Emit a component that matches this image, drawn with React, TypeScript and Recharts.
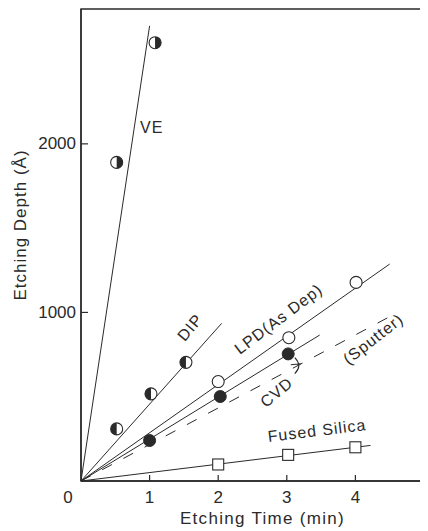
import React from 'react';
import { ComposedChart, Line, Scatter, XAxis, YAxis, ReferenceArea, Label } from 'recharts';

// fitted lines (drawn through the origin)
const veLine = [{ x: 0, y: 0 }, { x: 1.0, y: 2700 }];
const dipLine = [{ x: 0, y: 0 }, { x: 2.05, y: 935 }];
const lpdLine = [{ x: 0, y: 0 }, { x: 4.5, y: 1287 }];
const cvdLine = [{ x: 0, y: 0 }, { x: 3.48, y: 866 }];
const sputterLine = [{ x: 0, y: 0 }, { x: 4.5, y: 975 }];
const silicaLine = [{ x: 0, y: 0 }, { x: 4.22, y: 211 }];

// measured points
const vePoints = [{ x: 0.52, y: 1890 }, { x: 1.08, y: 2600 }];
const dipPoints = [{ x: 0.52, y: 309 }, { x: 1.02, y: 517 }, { x: 1.53, y: 704 }];
const lpdPoints = [{ x: 2.0, y: 590 }, { x: 3.03, y: 850 }, { x: 4.01, y: 1178 }];
const cvdPoints = [{ x: 1.0, y: 240 }, { x: 2.03, y: 501 }, { x: 3.02, y: 754 }];
const sputterPoints = [{ x: 3.16, y: 684 }];
const silicaPoints = [{ x: 2.0, y: 98 }, { x: 3.02, y: 155 }, { x: 4.0, y: 200 }];

const xTicks = [0, 1, 2, 3, 4];
const yTicks = [1000, 2000];

const curveLabels = [
  { text: 'VE', x: 1.03, y: 2097, angle: 0 },
  { text: 'DIP', x: 1.59, y: 911, angle: -50 },
  { text: 'LPD(As Dep)', x: 2.88, y: 961, angle: -37 },
  { text: '(Sputter)', x: 4.26, y: 843, angle: -38 },
  { text: 'CVD', x: 2.85, y: 526, angle: -40 },
  { text: 'Fused Silica', x: 3.44, y: 299, angle: -7 },
];

const INK = '#2a2a2a';
const FONT = "'Liberation Sans', Arial, sans-serif";
const NARROW = "'Liberation Sans Narrow', 'Liberation Sans', Arial, sans-serif";
const X_MARGIN = 10;
const Y_MARGIN = 5;

const XTick = (props: any) => {
  const { x, y, payload } = props;
  const axisY = y - X_MARGIN;
  const v = payload.value;
  return (
    <g>
      {v !== 0 && <line x1={x} x2={x} y1={axisY} y2={axisY - 6} stroke={INK} strokeWidth={1.2} />}
      <text x={v === 0 ? x - 13 : x} y={axisY + 16} textAnchor="middle" dominantBaseline="central"
        fontFamily={NARROW} fontSize={17} fill={INK}>{v}</text>
    </g>
  );
};

const YTick = (props: any) => {
  const { x, y, payload } = props;
  const axisX = x + Y_MARGIN;
  return (
    <g>
      <line x1={axisX} x2={axisX + 7} y1={y} y2={y} stroke={INK} strokeWidth={1.2} />
      <text x={x} y={y} textAnchor="end" dominantBaseline="central"
        fontFamily={NARROW} fontSize={17} fill={INK}>{payload.value}</text>
    </g>
  );
};

const halfCircle = (side: 'left' | 'right') => (p: any) => {
  const { cx, cy } = p;
  const r = 6;
  const sweep = side === 'right' ? 1 : 0;
  return (
    <g>
      <circle cx={cx} cy={cy} r={r} fill="#fff" stroke={INK} strokeWidth={1.1} />
      <path d={`M${cx},${cy - r} A${r},${r} 0 0 ${sweep} ${cx},${cy + r} Z`} fill={INK} />
    </g>
  );
};

const openCircle = (p: any) => (
  <circle cx={p.cx} cy={p.cy} r={6} fill="#fff" stroke={INK} strokeWidth={1.1} />
);

const filledCircle = (p: any) => (
  <circle cx={p.cx} cy={p.cy} r={6} fill={INK} stroke={INK} strokeWidth={1} />
);

const openSquare = (p: any) => (
  <rect x={p.cx - 5.5} y={p.cy - 5.5} width={11} height={11} fill="#fff" stroke={INK} strokeWidth={1.1} />
);

const sputterMark = (p: any) => {
  const { cx, cy } = p;
  return (
    <path d={`M${cx - 3},${cy - 8} Q${cx + 5},${cy} ${cx - 3},${cy + 8} M${cx - 7},${cy - 1} L${cx + 3},${cy - 2}`}
      fill="none" stroke={INK} strokeWidth={1.1} />
  );
};

const curveText = (p: any) => {
  const { cx, cy, payload } = p;
  return (
    <text x={cx} y={cy} textAnchor="middle" dominantBaseline="central"
      transform={`rotate(${payload.angle} ${cx} ${cy})`}
      fontFamily={FONT} fontSize={16} letterSpacing={1} fill={INK}>{payload.text}</text>
  );
};

const App: React.FC = () => {
  const lineProps = { type: 'linear' as const, dataKey: 'y', stroke: INK, strokeWidth: 1, dot: false, activeDot: false, isAnimationActive: false, legendType: 'none' as const };
  return (
    <ComposedChart width={420} height={523} margin={{ top: 1, right: 4, left: 0, bottom: 0 }}>
      <XAxis type="number" dataKey="x" domain={[0, 5]} ticks={xTicks} interval={0} height={50}
        tickSize={0} tickMargin={X_MARGIN} tick={XTick} axisLine={{ stroke: INK, strokeWidth: 1.4 }}>
        <Label content={(lp: any) => {
          const vb = lp.viewBox;
          const cx = vb.x + vb.width / 2 + 10;
          const cy = vb.y + 37;
          return <text x={cx} y={cy} textAnchor="middle" dominantBaseline="central" fontFamily={FONT}
            fontSize={17} letterSpacing={1.3} fill={INK}>Etching Time (min)</text>;
        }} />
      </XAxis>
      <YAxis type="number" domain={[0, 2800]} ticks={yTicks} interval={0} width={73}
        tickSize={0} tickMargin={Y_MARGIN} tick={YTick} axisLine={{ stroke: INK, strokeWidth: 1.4 }}>
        <Label content={(lp: any) => {
          const vb = lp.viewBox;
          const cx = vb.x + 12;
          const cy = vb.y + vb.height / 2 - 20;
          return <text x={cx} y={cy} textAnchor="middle" dominantBaseline="central"
            transform={`rotate(-90 ${cx} ${cy})`} fontFamily={FONT} fontSize={17} letterSpacing={1}
            fill={INK}>Etching Depth  (Å)</text>;
        }} />
      </YAxis>
      <ReferenceArea x1={0} x2={5} y1={0} y2={2800} fill="none" stroke={INK} strokeWidth={1.4} />

      <Line {...lineProps} data={veLine} />
      <Line {...lineProps} data={dipLine} />
      <Line {...lineProps} data={lpdLine} />
      <Line {...lineProps} data={cvdLine} />
      <Line {...lineProps} data={sputterLine} strokeDasharray="11 13" />
      <Line {...lineProps} data={silicaLine} />

      <Scatter data={vePoints} dataKey="y" shape={halfCircle('right')} isAnimationActive={false} />
      <Scatter data={dipPoints} dataKey="y" shape={halfCircle('left')} isAnimationActive={false} />
      <Scatter data={lpdPoints} dataKey="y" shape={openCircle} isAnimationActive={false} />
      <Scatter data={cvdPoints} dataKey="y" shape={filledCircle} isAnimationActive={false} />
      <Scatter data={sputterPoints} dataKey="y" shape={sputterMark} isAnimationActive={false} />
      <Scatter data={silicaPoints} dataKey="y" shape={openSquare} isAnimationActive={false} />
      <Scatter data={curveLabels} dataKey="y" shape={curveText} isAnimationActive={false} />
    </ComposedChart>
  );
};

export default App;
